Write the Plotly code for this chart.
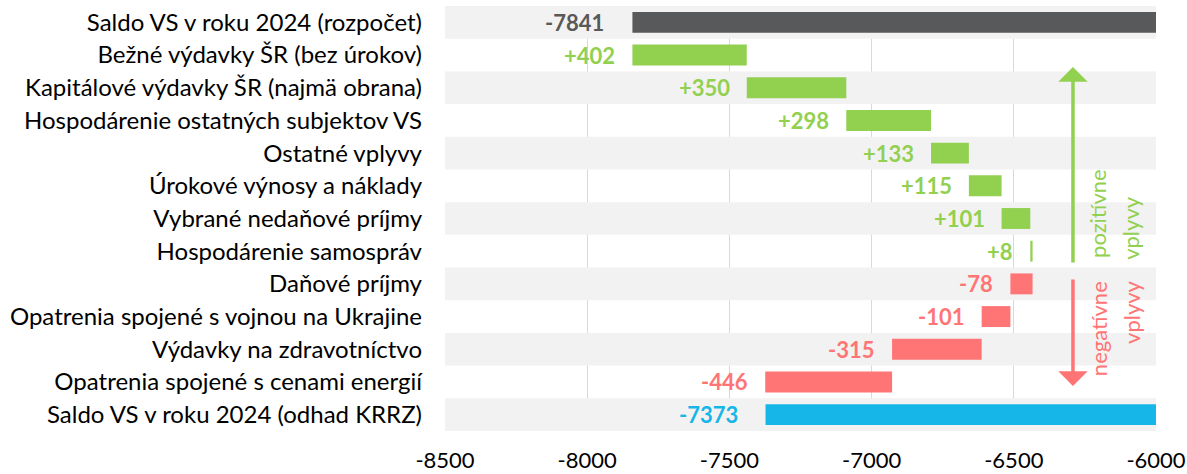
import plotly.graph_objects as go

categories = [
    "Saldo VS v roku 2024 (rozpočet)",
    "Bežné výdavky ŠR (bez úrokov)",
    "Kapitálové výdavky ŠR (najmä obrana)",
    "Hospodárenie ostatných subjektov VS",
    "Ostatné vplyvy",
    "Úrokové výnosy a náklady",
    "Vybrané nedaňové príjmy",
    "Hospodárenie samospráv",
    "Daňové príjmy",
    "Opatrenia spojené s vojnou na Ukrajine",
    "Výdavky na zdravotníctvo",
    "Opatrenia spojené s cenami energií",
    "Saldo VS v roku 2024 (odhad KRRZ)",
]
start_total = -7841
deltas = [402, 350, 298, 133, 115, 101, 8, -78, -101, -315, -446]
end_total = -7373
x_ticks = [-8500, -8000, -7500, -7000, -6500, -6000]
x_tick_labels = ["-8500", "-8000", "-7500", "-7000", "-6500", "-6000"]
axis_right = -6000
axis_left = -8500

GRAY = "#58595B"
GREEN = "#92D050"
RED = "#FF7575"
BLUE = "#17B6E8"
FONT = "Lato"

bases, lengths, colors, labels, label_colors, label_x = [], [], [], [], [], []
bases.append(start_total); lengths.append(axis_right - start_total)
colors.append(GRAY); labels.append(str(start_total)); label_colors.append("#595959"); label_x.append(start_total)
cum = start_total
for d in deltas:
    new = cum + d
    lo = min(cum, new)
    bases.append(lo); lengths.append(abs(d))
    c = GREEN if d > 0 else RED
    colors.append(c); labels.append(f"{d:+d}"); label_colors.append(c); label_x.append(lo)
    cum = new
bases.append(end_total); lengths.append(axis_right - end_total)
colors.append(BLUE); labels.append(str(end_total)); label_colors.append(BLUE); label_x.append(end_total)

fig = go.Figure()
fig.add_trace(go.Bar(
    y=categories, x=lengths, base=bases, orientation="h",
    marker=dict(color=colors, line=dict(width=0)), width=0.64,
    hoverinfo="skip", showlegend=False,
))

shapes = []
for i in range(0, len(categories), 2):
    shapes.append(dict(type="rect", xref="x", yref="y", x0=axis_left, x1=axis_right,
                       y0=i - 0.5, y1=i + 0.5, fillcolor="#F2F2F2", line=dict(width=0),
                       layer="between"))

annotations = []
n = len(categories)
for i, (lx, t, c) in enumerate(zip(label_x, labels, label_colors)):
    shift = -26 if i in (0, n - 1) else -15
    annotations.append(dict(x=lx, y=categories[i], xref="x", yref="y", text=f"<b>{t}</b>",
                            showarrow=False, xanchor="right", yanchor="middle", xshift=shift,
                            font=dict(family=FONT, size=22, color=c)))

# arrows
annotations.append(dict(x=-6292, y=0.8565, xref="x", yref="paper", text="", showarrow=True,
                        ax=0, ay=197, arrowhead=1, arrowsize=1.4, arrowwidth=3.5,
                        arrowcolor=GREEN, standoff=0, startstandoff=0))
annotations.append(dict(x=-6292, y=0.1059, xref="x", yref="paper", text="", showarrow=True,
                        ax=0, ay=-108, arrowhead=1, arrowsize=1.4, arrowwidth=3.5,
                        arrowcolor=RED, standoff=0, startstandoff=0))
for txt, xx, yy, c in [("pozitívne", -6204, 0.513, GREEN), ("vplyvy", -6088, 0.478, GREEN),
                       ("negatívne", -6204, 0.242, RED), ("vplyvy", -6088, 0.28, RED)]:
    annotations.append(dict(x=xx, y=yy, xref="x", yref="paper", text=txt, textangle=-90,
                            xanchor="center", yanchor="middle",
                            showarrow=False, font=dict(family=FONT, size=22, color=c)))

fig.update_layout(
    width=1187, height=474,
    margin=dict(l=445, r=31, t=6, b=43),
    paper_bgcolor="white", plot_bgcolor="white",
    shapes=shapes, annotations=annotations,
    xaxis=dict(range=[axis_left, axis_right], tickvals=x_ticks, ticktext=x_tick_labels,
               showgrid=True, gridcolor="#D9D9D9", gridwidth=1, zeroline=False, showline=False,
               tickfont=dict(family=FONT, size=22, color="black"), ticks="",
               ticklabelstandoff=14, automargin=False, fixedrange=True),
    yaxis=dict(range=[n - 0.5, -0.5], type="category", showgrid=False, ticks="",
               tickfont=dict(family=FONT, size=24, color="black"),
               ticklabelstandoff=22, automargin=False, fixedrange=True),
    font=dict(family=FONT),
)
fig.write_html("out.html", config={"displayModeBar": False},
               post_script="document.body.style.margin='0';document.body.style.overflow='hidden';")
